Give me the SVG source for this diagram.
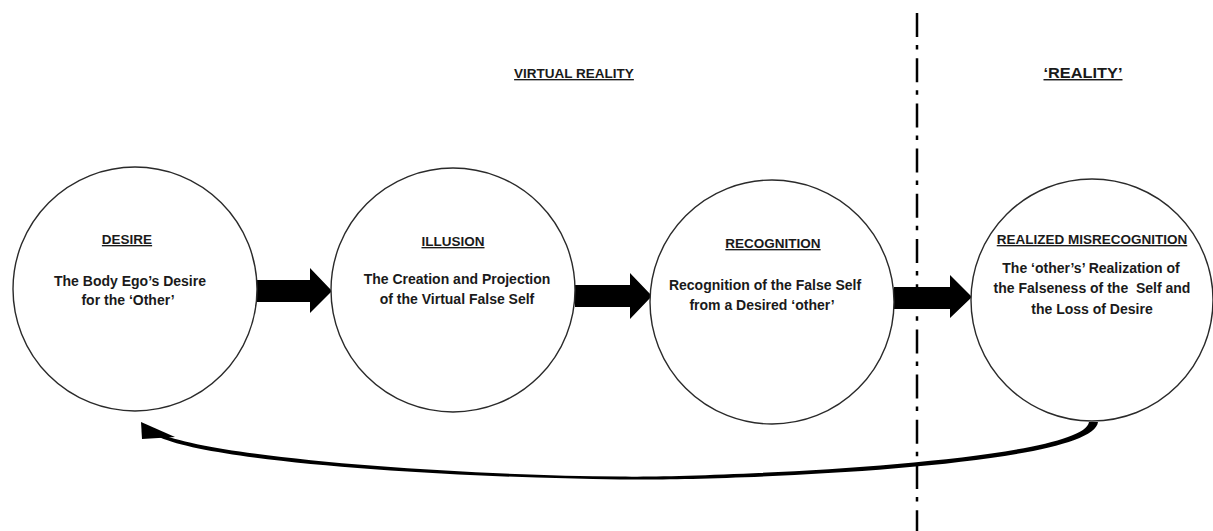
<svg xmlns="http://www.w3.org/2000/svg" width="1213" height="531" viewBox="0 0 1213 531">
<style>
  .node circle { fill: #ffffff; stroke: #2a2a2a; stroke-width: 1.4; }
  text { font-family: "Liberation Sans", Arial, sans-serif; font-weight: bold; fill: #1a1a1a; text-anchor: middle; }
  .t { font-size: 13.5px; text-decoration: underline; }
  .b { font-size: 14px; }
  .h { font-size: 13.5px; text-decoration: underline; }
  .arr { fill: #000000; }
  .divider { stroke: #000000; stroke-width: 2.5; stroke-dasharray: 24 8 4.5 8.7; fill: none; }
</style>
<rect width="1213" height="531" fill="#ffffff"/>

<g id="headers">
  <text class="h" x="574" y="78">VIRTUAL REALITY</text>
  <text class="h" x="1083" y="78" style="font-size:14.5px" textLength="79" lengthAdjust="spacingAndGlyphs">‘REALITY’</text>
</g>

<line class="divider" x1="917" y1="13" x2="917" y2="531"/>

<g id="connectors">
  <polygon class="arr" points="257,280 310,280 310,268 332,291 310,313 310,302 257,302"/>
  <polygon class="arr" points="575,285 630,285 630,273 652,296 630,319 630,307 575,307"/>
  <polygon class="arr" points="894,287 950,287 950,275 972,297 950,318 950,309 894,309"/>
  <path class="arr" d="M1089,422 L1098,422 C1093,469 700,481.2 620,479.4 C450,477.6 220,463 160,437.5 L157,433 C220,458.6 450,475 620,476.6 C700,478 1083,463 1089,422 Z"/>
  <polygon class="arr" points="141,422 175,437 142,439"/>
</g>

<g id="node-desire" class="node">
  <circle cx="135" cy="289" r="122"/>
  <text class="t" x="127" y="244">DESIRE</text>
  <text class="b" x="130" y="285.5">The Body Ego’s Desire</text>
  <text class="b" x="128" y="305">for the ‘Other’</text>
</g>

<g id="node-illusion" class="node">
  <circle cx="453" cy="290" r="122"/>
  <text class="t" x="453" y="246">ILLUSION</text>
  <text class="b" x="457" y="283.5">The Creation and Projection</text>
  <text class="b" x="457" y="304">of the Virtual False Self</text>
</g>

<g id="node-recognition" class="node">
  <circle cx="772" cy="302" r="122"/>
  <text class="t" x="773" y="248">RECOGNITION</text>
  <text class="b" x="765" y="290">Recognition of the False Self</text>
  <text class="b" x="762" y="309.5">from a Desired ‘other’</text>
</g>

<g id="node-realized" class="node">
  <circle cx="1092" cy="300" r="121"/>
  <text class="t" x="1092" y="244">REALIZED MISRECOGNITION</text>
  <text class="b" x="1091" y="272.5">The ‘other’s’ Realization of</text>
  <text class="b" x="1092" y="293" xml:space="preserve">the Falseness of the  Self and</text>
  <text class="b" x="1092" y="313.5">the Loss of Desire</text>
</g>
</svg>
